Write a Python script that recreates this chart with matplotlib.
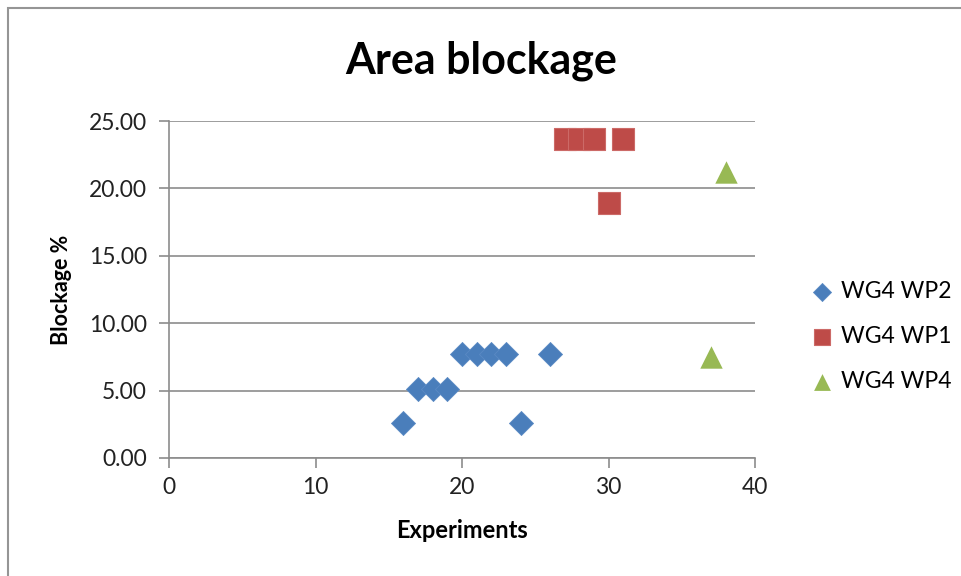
import matplotlib.pyplot as plt
from matplotlib.patches import Rectangle

# blockage per experiment, three working groups
wp2_x = [16, 17, 18, 19, 20, 21, 22, 23, 24, 26]
wp2_y = [2.56, 5.13, 5.13, 5.13, 7.69, 7.69, 7.69, 7.69, 2.56, 7.69]
wp1_x = [27, 28, 29, 30, 31]
wp1_y = [23.68, 23.68, 23.68, 18.92, 23.68]
wp4_x = [37, 38]
wp4_y = [7.50, 21.20]
names = ["WG4 WP2", "WG4 WP1", "WG4 WP4"]

plt.rcParams['font.family'] = ['Lato', 'DejaVu Sans']

fig = plt.figure(figsize=(9.62, 5.76), dpi=100)
ax = fig.add_axes([169 / 962, 1 - 458 / 576, (755 - 169) / 962, (458 - 121) / 576])

# chart border running off the right and bottom edges
fig.patches.append(Rectangle((8 / 962, -0.05), 1.2, 1 - 8 / 576 + 0.05,
                             transform=fig.transFigure, fill=False,
                             edgecolor='#959595', linewidth=1.5))

ax.scatter(wp2_x, wp2_y, marker='D', s=150, color='#4a7ebb', label=names[0],
           zorder=3, edgecolors='#5a8ac4', linewidths=0.6)
ax.scatter(wp1_x, wp1_y, marker='s', s=250, color='#be4b48', label=names[1],
           zorder=3, edgecolors='#cc6a67', linewidths=0.8)
ax.scatter(wp4_x, wp4_y, marker='^', s=260, color='#98b954', label=names[2],
           zorder=3, linewidths=0)

ax.set_xlim(0, 40)
ax.set_ylim(0, 25)
ax.set_xticks([0, 10, 20, 30, 40])
ax.set_yticks([0, 5, 10, 15, 20, 25])
ax.set_yticklabels([f"{v:.2f}" for v in [0, 5, 10, 15, 20, 25]])
ax.yaxis.grid(True, color='#8c8c8c', linewidth=1.2)
ax.set_axisbelow(True)

for side in ['top', 'right']:
    ax.spines[side].set_visible(False)
for side in ['left', 'bottom']:
    ax.spines[side].set_color('#8c8c8c')
    ax.spines[side].set_linewidth(1.2)
ax.tick_params(axis='both', direction='out', length=7, width=1.2, color='#8c8c8c',
               labelsize=16.5, labelcolor='#222222', pad=7)
ax.tick_params(axis='y', pad=9)

ax.set_xlabel("Experiments", fontsize=17, fontweight='bold', labelpad=15)
ax.set_ylabel("Blockage %", fontsize=15.5, fontweight='bold', labelpad=12)
fig.text(0.5, 1 - 61 / 576, "Area blockage", ha='center', va='center',
         fontsize=31, fontweight='bold')

ax.legend(loc='center left', bbox_to_anchor=(1.06, 0.36), frameon=False,
          fontsize=16.5, handletextpad=-0.2, labelspacing=1.05,
          markerscale=0.75, borderaxespad=0)

fig.savefig("out.png", dpi=100)
